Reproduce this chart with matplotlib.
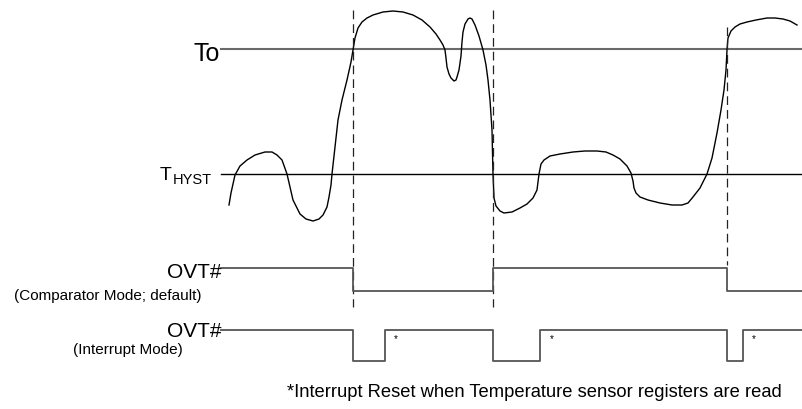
import matplotlib
matplotlib.use("Agg")
import matplotlib.pyplot as plt

plt.rcParams['font.family'] = ['Liberation Sans', 'DejaVu Sans']

# temperature trace (pixel coords, y grows downward)
temp_x = [229, 231, 235, 240, 247, 255, 265, 272, 277, 282, 287, 290, 293, 297, 300, 306, 313,
          319, 323, 327, 329, 331, 332, 335, 338, 342, 347, 351, 353, 355, 358, 362, 367, 373,
          383, 393, 403, 413, 422, 430, 436, 440, 443, 445, 446, 447, 449, 451, 454, 456, 457,
          459, 461, 462, 463, 465, 468, 470, 472, 475, 479, 483, 486, 488, 490, 492, 493, 494,
          496, 500, 504, 512, 520, 527, 533, 537, 539, 541, 544, 550, 560, 573, 585, 597, 606,
          613, 620, 627, 631, 633, 634, 636, 640, 648, 660, 672, 682, 688, 693, 700, 707, 712,
          717, 721, 724, 726, 727, 728, 731, 735, 740, 747, 756, 767, 775, 783, 790, 797]
temp_y = [205, 193, 175, 166, 160, 155, 152, 152, 155, 160, 174, 187, 200, 208, 214, 219, 221,
          219, 215, 207, 197, 185, 174, 147, 120, 100, 80, 62, 50, 38, 28, 22, 18, 15,
          12, 11, 12, 15, 20, 27, 34, 40, 45, 50, 58, 67, 74, 78, 81, 80, 77,
          70, 56, 42, 32, 24, 19, 18, 19, 25, 36, 50, 65, 80, 100, 130, 174, 198,
          206, 211, 213, 212, 208, 204, 198, 190, 174, 164, 160, 156, 154, 152, 151, 151, 152,
          155, 159, 166, 173, 181, 188, 193, 197, 200, 203, 205, 205, 203, 197, 188, 174, 158,
          133, 110, 90, 70, 50, 38, 31, 27, 24, 22, 20, 18, 18, 19, 21, 25]

to_level = 49
thyst_level = 174

# alert events (dashed guides): x, top, bottom
event_x = [353, 493, 727]
event_top = [10, 10, 27]
event_bottom = [307, 307, 265]

# OVT# comparator mode: edge times and state (1 = high)
comp_t = [221, 353, 493, 727, 802]
comp_state = [1, 0, 1, 0, 0]
comp_y = {1: 268, 0: 291}

# OVT# interrupt mode
intr_t = [221, 353, 385, 493, 540, 727, 743, 802]
intr_state = [1, 0, 1, 0, 1, 0, 1, 1]
intr_y = {1: 330, 0: 361}

# reset markers
star_x = [396, 552, 754]
star_y = 339

fig = plt.figure(figsize=(8.02, 4.09), dpi=100)
ax = fig.add_axes([0, 0, 1, 1])
ax.set_xlim(0, 802)
ax.set_ylim(409, 0)
ax.axis('off')

ax.plot([221, 802], [to_level, to_level], color='#6a6a6a', lw=1.5)
ax.plot([221, 802], [thyst_level, thyst_level], color='black', lw=1.0)
ax.plot(temp_x, temp_y, color='black', lw=1.0, solid_joinstyle='round')

for x, t, b in zip(event_x, event_top, event_bottom):
    ax.plot([x, x], [t, b], color='#222222', lw=0.9, dashes=(7, 4))

ax.step(comp_t, [comp_y[s] for s in comp_state], where='post', color='#555555', lw=1.3)
ax.step(intr_t, [intr_y[s] for s in intr_state], where='post', color='#555555', lw=1.3)

for sx in star_x:
    ax.text(sx, star_y, '*', fontsize=7, ha='center', va='center')

ax.text(220, 61, 'To', fontsize=18, ha='right', va='baseline')
ax.text(160, 180, 'T', fontsize=14, ha='left', va='baseline')
ax.text(172.5, 184.3, 'HYST', fontsize=10.5, ha='left', va='baseline')

ax.text(221, 278, 'OVT#', fontsize=15, ha='right', va='baseline')
ax.text(201, 300, '(Comparator Mode; default)', fontsize=11, ha='right', va='baseline')
ax.text(221, 337, 'OVT#', fontsize=15, ha='right', va='baseline')
ax.text(183, 354, '(Interrupt Mode)', fontsize=11, ha='right', va='baseline')

ax.text(287, 397, '*Interrupt Reset when Temperature sensor registers are read',
        fontsize=13.2, ha='left', va='baseline')

fig.savefig('out.png', dpi=100)
